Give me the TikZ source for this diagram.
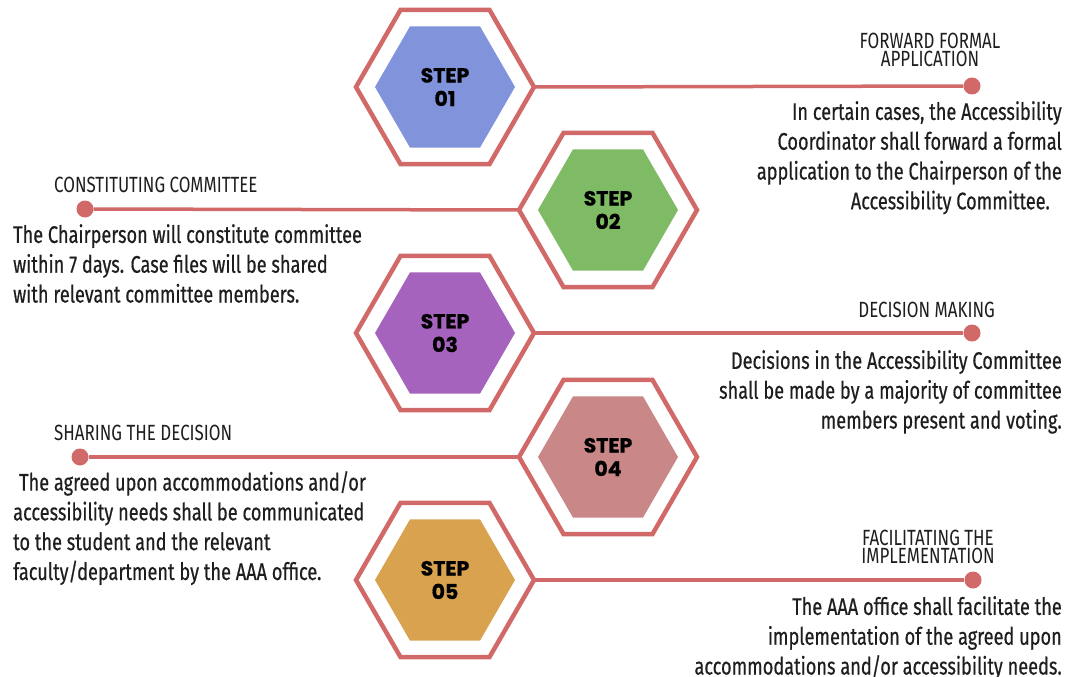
\documentclass[tikz,border=0pt]{standalone}
\usepackage{fontspec}
\usetikzlibrary{shapes.geometric}
\newfontfamily\bodyfont[FakeStretch=0.757,FakeBold=0.5]{Fira Sans}
\newfontfamily\titlefont[FakeStretch=0.77]{Fira Sans}
\newfontfamily\stepfont[FakeBold=0.8]{Poppins}
\definecolor{rim}{RGB}{210,105,105}
\definecolor{ink}{RGB}{30,30,30}
\definecolor{stepblue}{RGB}{129,147,219}
\definecolor{stepgreen}{RGB}{127,187,101}
\definecolor{steppurple}{RGB}{166,99,189}
\definecolor{steppink}{RGB}{201,135,135}
\definecolor{stepgold}{RGB}{217,162,79}
\begin{document}
\begin{tikzpicture}[x=1pt,y=-1pt,
  rimhex/.style={regular polygon, regular polygon sides=6, minimum size=178pt,
    inner sep=0pt, outer sep=0pt, draw=rim, line width=4.5pt, fill=white},
  corehex/.style={regular polygon, regular polygon sides=6, minimum size=140pt,
    inner sep=0pt, fill=#1, text=black, align=center,
    font=\stepfont\bfseries\fontsize{20.5}{23.5}\selectfont},
  link/.style={draw=rim, line width=3.5pt},
  dot/.style={circle, fill=rim, minimum size=17pt, inner sep=0pt},
  title/.style={font=\titlefont\fontsize{22}{18}\selectfont, inner sep=0pt, text=ink},
  body/.style={font=\bodyfont\fontsize{24}{29.8}\selectfont, inner sep=0pt, text=ink}]

\fill[white] (0,0) rectangle (1069,677);
\useasboundingbox (0,0) rectangle (1069,677);

% hexagon frames with coloured cores
\node[rimhex] (s1) at (445,87) {};
\node[corehex=stepblue] (c1) at (445,87) {STEP\\01};
\node[rimhex] (s2) at (608,210) {};
\node[corehex=stepgreen] (c2) at (608,210) {STEP\\02};
\node[rimhex] (s3) at (445,333) {};
\node[corehex=steppurple] (c3) at (445,333) {STEP\\03};
\node[rimhex] (s4) at (608,457) {};
\node[corehex=steppink] (c4) at (608,457) {STEP\\04};
\node[rimhex] (s5) at (445,580) {};
\node[corehex=stepgold] (c5) at (445,580) {STEP\\05};

% end dots and leader lines
\node[dot] (d1) at (972,86) {};
\node[dot] (d2) at (85,209) {};
\node[dot] (d3) at (972,333) {};
\node[dot] (d4) at (80,457) {};
\node[dot] (d5) at (973,580) {};
\draw[link] (s1.east) -- (d1);
\draw[link] (s2.west) -- (d2);
\draw[link] (s3.east) -- (d3);
\draw[link] (s4.west) -- (d4);
\draw[link] (s5.east) -- (d5);

% headings
\node[title, anchor=north, align=center] (t1) at (930,33) {FORWARD FORMAL\\APPLICATION};
\node[title, anchor=north west] (t2) at (54,177) {CONSTITUTING COMMITTEE};
\node[title, anchor=north east] (t3) at (995,302) {DECISION MAKING};
\node[title, anchor=north west] (t4) at (54,425) {SHARING THE DECISION};
\node[title, anchor=north, align=center] (t5) at (928,530) {FACILITATING THE\\IMPLEMENTATION};

% descriptions
\node[body, anchor=north east, align=right] (b1) at (1062,101)
  {In certain cases, the Accessibility\\Coordinator shall forward a formal\\application to the Chairperson of the\\Accessibility Committee.\hspace*{12pt}};
\node[body, anchor=north west, align=left] (b2) at (13,224)
  {The Chairperson will constitute committee\\within 7 days. Case files will be shared\\with relevant committee members.};
\node[body, anchor=north east, align=right] (b3) at (1062,350)
  {Decisions in the Accessibility Committee\\shall be made by a majority of committee\\members present and voting.};
\node[body, anchor=north west, align=left] (b4) at (13,471)
  {\hspace*{6pt}The agreed upon accommodations and/or\\accessibility needs shall be communicated\\to the student and the relevant\\faculty/department by the AAA office.};
\node[body, anchor=north east, align=right] (b5) at (1062,596)
  {The AAA office shall facilitate the\\implementation of the agreed upon\\accommodations and/or accessibility needs.};
\end{tikzpicture}
\end{document}
